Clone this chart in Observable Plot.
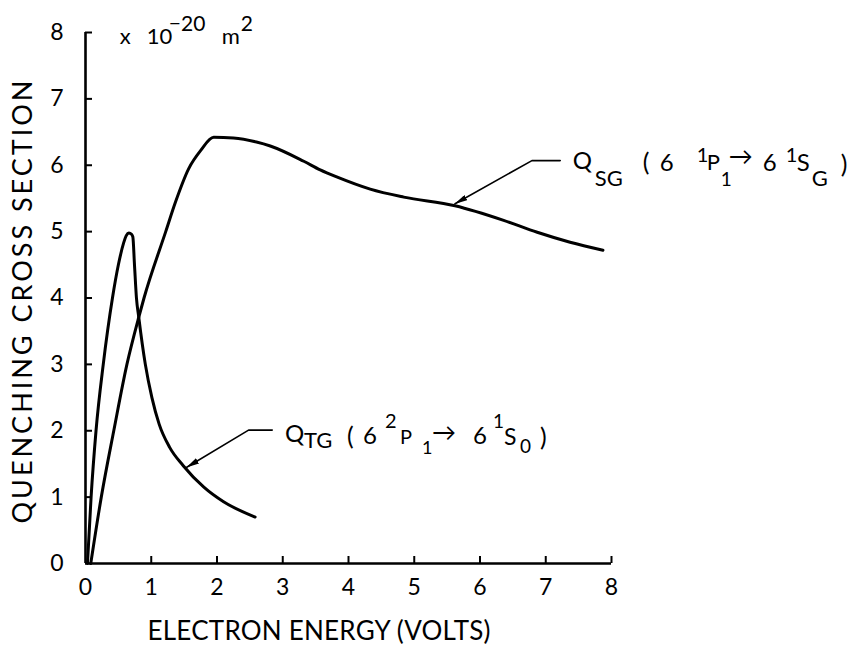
<!DOCTYPE html>
<html><head><meta charset="utf-8">
<script src="https://cdn.jsdelivr.net/npm/d3@7"></script>
<script src="https://cdn.jsdelivr.net/npm/@observablehq/plot@0.6"></script>
<style>html,body{margin:0;padding:0;background:#fff;overflow:hidden}</style>
</head><body><div id="chart"></div>
<script>
// ---- data ----
const xTicks = [0, 1, 2, 3, 4, 5, 6, 7, 8];
const yTicks = [0, 1, 2, 3, 4, 5, 6, 7, 8];
const tgEnergy = [0.03, 0.085, 0.16, 0.27, 0.41, 0.50, 0.58, 0.62, 0.66, 0.70, 0.72, 0.745, 0.775, 0.81, 0.91, 1.01, 1.12, 1.28, 1.49, 1.80, 2.10, 2.58];
const tgQ      = [0.00, 1.00, 2.00, 3.00, 4.00, 4.50, 4.83, 4.94, 4.98, 4.96, 4.92, 4.50, 4.00, 3.71, 3.00, 2.50, 2.10, 1.75, 1.47, 1.15, 0.93, 0.70];
const sgEnergy = [0.08, 0.24, 0.43, 0.63, 0.81, 0.89, 1.22, 1.37, 1.57, 1.75, 1.95, 2.25, 2.60, 2.81, 3.32, 3.57, 3.83, 4.33, 4.84, 5.62, 6.36, 6.87, 7.37, 7.87];
const sgQ      = [0.00, 1.00, 2.00, 3.00, 3.71, 4.00, 5.00, 5.45, 5.95, 6.22, 6.42, 6.41, 6.35, 6.29, 6.06, 5.93, 5.82, 5.64, 5.52, 5.39, 5.17, 4.99, 4.84, 4.72];
const sgLeaderX = [7.22, 6.79, 5.62];
const sgLeaderY = [6.07, 6.07, 5.42];
const tgLeaderX = [2.84, 2.48, 1.54];
const tgLeaderY = [2.01, 2.01, 1.45];
const xTitle = "ELECTRON ENERGY (VOLTS)";
const yTitle = "QUENCHING CROSS SECTION";
const unitAnchor = [0.53, 7.82];
const sgAnchor = [7.42, 5.94];
const tgAnchor = [3.04, 1.83];
const unitSegs = [["x",0,0,22],["10",27,0,22],["\u221220",49,-13,21],["m",102,0,22],["2",121,-13,21]];
const sgSegs = [["Q",0,0,24],["SG",22,17,22],["(",70,2,25],["6",87,2,24],["1",124,-7,20],["P",134,1,22],["1",148,17,19],["\u2192",156,-4,24],["6",190,2,24],["1",213,-7,20],["S",224,2,24],["G",239,17,22],[")",268,4,25]];
const tgSegs = [["Q",0,0,24],["TG",19,6,22],["(",62,3,25],["6",78,2,24],["2",100,-14,20],["P",115,2,20],["1",137,12,18],["\u2192",147,-1,24],["6",188,2,24],["1",208,-14,19],["S",219,3,23],["0",235,11,19],[")",255,4,25]];

const FONT = "Lato, 'Open Sans', sans-serif";
const tg = tgEnergy.map((e, i) => ({e, q: tgQ[i]}));
const sg = sgEnergy.map((e, i) => ({e, q: sgQ[i]}));
const sgLead = sgLeaderX.map((x, i) => ({x, y: sgLeaderY[i]}));
const tgLead = tgLeaderX.map((x, i) => ({x, y: tgLeaderY[i]}));
const tickLenX = 7 / 65.75, tickLenY = 7 / 66.4;

const plot = Plot.plot({
  width: 856, height: 645,
  marginLeft: 85, marginRight: 245, marginTop: 32, marginBottom: 82,
  x: {domain: [0, 8]},
  y: {domain: [0, 8]},
  style: {fontFamily: FONT, color: "black", background: "white"},
  marks: [
    Plot.axisX({ticks: xTicks, tickSize: 0, tickPadding: 15, fontSize: 23, label: null, tickFormat: d => d}),
    Plot.axisY({ticks: yTicks, tickSize: 0, tickPadding: 22, fontSize: 23, label: null, tickFormat: d => d}),
    Plot.ruleY(yTicks.slice(1), {x1: 0, x2: tickLenX, strokeWidth: 2}),
    Plot.ruleX(xTicks.slice(1), {y1: 0, y2: tickLenY, strokeWidth: 2}),
    Plot.ruleX([0], {y1: 0, y2: 8, strokeWidth: 2.6}),
    Plot.ruleY([0], {x1: 0, x2: 8, strokeWidth: 2.6}),
    Plot.line(tg, {x: "e", y: "q", strokeWidth: 3, strokeLinejoin: "round", strokeLinecap: "round", curve: "monotone-x"}),
    Plot.line(sg, {x: "e", y: "q", strokeWidth: 3, strokeLinejoin: "round", strokeLinecap: "round", curve: "monotone-x"}),
    Plot.line(sgLead, {x: "x", y: "y", strokeWidth: 1.6}),
    Plot.line(tgLead, {x: "x", y: "y", strokeWidth: 1.6}),
    Plot.text([xTitle], {frameAnchor: "bottom", text: d => d, dx: -29.5, dy: 68.5, fontSize: 26, textAnchor: "middle", lineAnchor: "middle"}),
    Plot.text([yTitle], {frameAnchor: "left", text: d => d, dx: -62.5, dy: 4, fontSize: 27, textAnchor: "middle", rotate: -90, lineAnchor: "middle"})
  ]
});
document.getElementById("chart").appendChild(plot);

const sx = plot.scale("x"), sy = plot.scale("y");
const svg = d3.select(plot);
// stretch the two axis titles to the reference's lettering width
svg.selectAll("text").each(function() {
  const s = this.textContent;
  if (s === xTitle) d3.select(this).attr("textLength", 343).attr("lengthAdjust", "spacing");
  if (s === yTitle) d3.select(this).attr("textLength", 443).attr("lengthAdjust", "spacing");
});
// filled, narrow arrowheads on the two leader lines
svg.append("defs").append("marker")
  .attr("id", "leadhead").attr("viewBox", "0 0 13 6").attr("refX", 12.5).attr("refY", 3)
  .attr("markerWidth", 13).attr("markerHeight", 6).attr("markerUnits", "userSpaceOnUse").attr("orient", "auto")
  .append("path").attr("d", "M0,0L13,3L0,6Z").attr("fill", "black");
const lineGroups = svg.selectAll('g[aria-label="line"]').nodes();
lineGroups.slice(2).forEach(g => d3.select(g).selectAll("path").attr("marker-end", "url(#leadhead)"));

function drawLabel(anchor, segs) {
  const x0 = sx.apply(anchor[0]), y0 = sy.apply(anchor[1]);
  const t = svg.append("text").attr("font-family", FONT).attr("fill", "black").attr("text-anchor", "start");
  segs.forEach(([s, dx, dy, fs]) => t.append("tspan").attr("x", x0 + dx).attr("y", y0 + dy).attr("font-size", fs).text(s));
}
drawLabel(unitAnchor, unitSegs);
drawLabel(sgAnchor, sgSegs);
drawLabel(tgAnchor, tgSegs);
</script>
</body></html>
